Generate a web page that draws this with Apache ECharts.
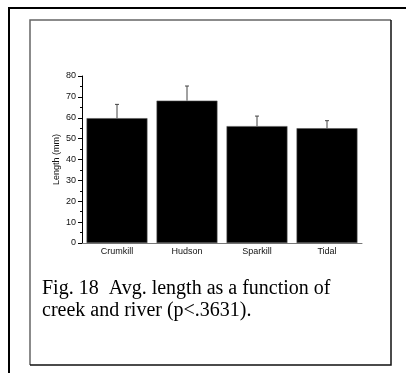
<!DOCTYPE html>
<html>
<head>
<meta charset="utf-8">
<style>
html,body{margin:0;padding:0;background:#fff;}
#chart{width:406px;height:373px;}
</style>
<script src="https://cdn.jsdelivr.net/npm/echarts@6/dist/echarts.min.js"></script>
</head>
<body>
<div id="chart"></div>
<script>
const categories = ['Crumkill', 'Hudson', 'Sparkill', 'Tidal'];
const meanLength = [59.8, 68.2, 56.0, 55.0];
const errorUpper = [66.4, 75.2, 60.8, 58.6];
const yTicks = { min: 0, max: 80, interval: 10 };
const yTitle = 'Length (mm)';
const captionLines = ['Fig. 18  Avg. length as a function of', 'creek and river (p<.3631).'];

const chart = echarts.init(document.getElementById('chart'), null, { renderer: 'canvas' });

const errData = categories.map((c, i) => [i, meanLength[i], errorUpper[i]]);

chart.setOption({
  animation: false,
  backgroundColor: '#fff',
  grid: { left: 82, right: 44, top: 76, bottom: 130, containLabel: false },
  xAxis: {
    type: 'category',
    data: categories,
    axisLine: { lineStyle: { color: '#777', width: 1 } },
    axisTick: { alignWithLabel: true, length: 3, lineStyle: { color: '#777' } },
    axisLabel: { color: '#111', fontFamily: 'Liberation Sans', fontSize: 9, margin: 4 }
  },
  yAxis: {
    type: 'value',
    min: yTicks.min, max: yTicks.max, interval: yTicks.interval,
    name: yTitle,
    nameLocation: 'middle',
    nameGap: 21,
    nameMoveOverlap: false,
    nameTextStyle: { color: '#111', fontFamily: 'Liberation Sans', fontSize: 9 },
    axisLine: { show: true, lineStyle: { color: '#000', width: 1 } },
    axisTick: { show: true, length: 4, lineStyle: { color: '#000' } },
    minorTick: { show: true, splitNumber: 2, length: 2, lineStyle: { color: '#000' } },
    splitLine: { show: false },
    axisLabel: { color: '#111', fontFamily: 'Liberation Sans', fontSize: 9, margin: 6 }
  },
  series: [
    {
      type: 'bar',
      data: meanLength,
      barCategoryGap: '13%',
      itemStyle: { color: '#000', borderColor: '#555', borderWidth: 0.6 },
      z: 2
    },
    {
      type: 'custom',
      data: errData,
      z: 3,
      renderItem: function (params, api) {
        const x = api.value(0);
        const base = api.coord([x, api.value(1)]);
        const top = api.coord([x, api.value(2)]);
        const hw = 2;
        return {
          type: 'group',
          children: [
            { type: 'line', shape: { x1: base[0], y1: base[1], x2: top[0], y2: top[1] }, style: { stroke: '#444', lineWidth: 1 } },
            { type: 'line', shape: { x1: top[0] - hw, y1: top[1], x2: top[0] + hw, y2: top[1] }, style: { stroke: '#444', lineWidth: 1 } }
          ]
        };
      }
    }
  ],
  graphic: [
    { type: 'polyline', shape: { points: [[9, 373], [9, 8], [406, 8]] }, style: { stroke: '#000', lineWidth: 2, fill: null } },
    { type: 'polyline', shape: { points: [[30, 365], [30, 20], [391, 20]] }, style: { stroke: '#666', lineWidth: 1.5, fill: null } },
    { type: 'polyline', shape: { points: [[30, 365], [391, 365], [391, 20]] }, style: { stroke: '#111', lineWidth: 1.5, fill: null } },
    { type: 'text', left: 42, top: 279, style: { text: captionLines[0], font: '20px "Liberation Serif"', fill: '#000' } },
    { type: 'text', left: 42, top: 301, style: { text: captionLines[1], font: '20px "Liberation Serif"', fill: '#000' } }
  ]
});
</script>
</body>
</html>
